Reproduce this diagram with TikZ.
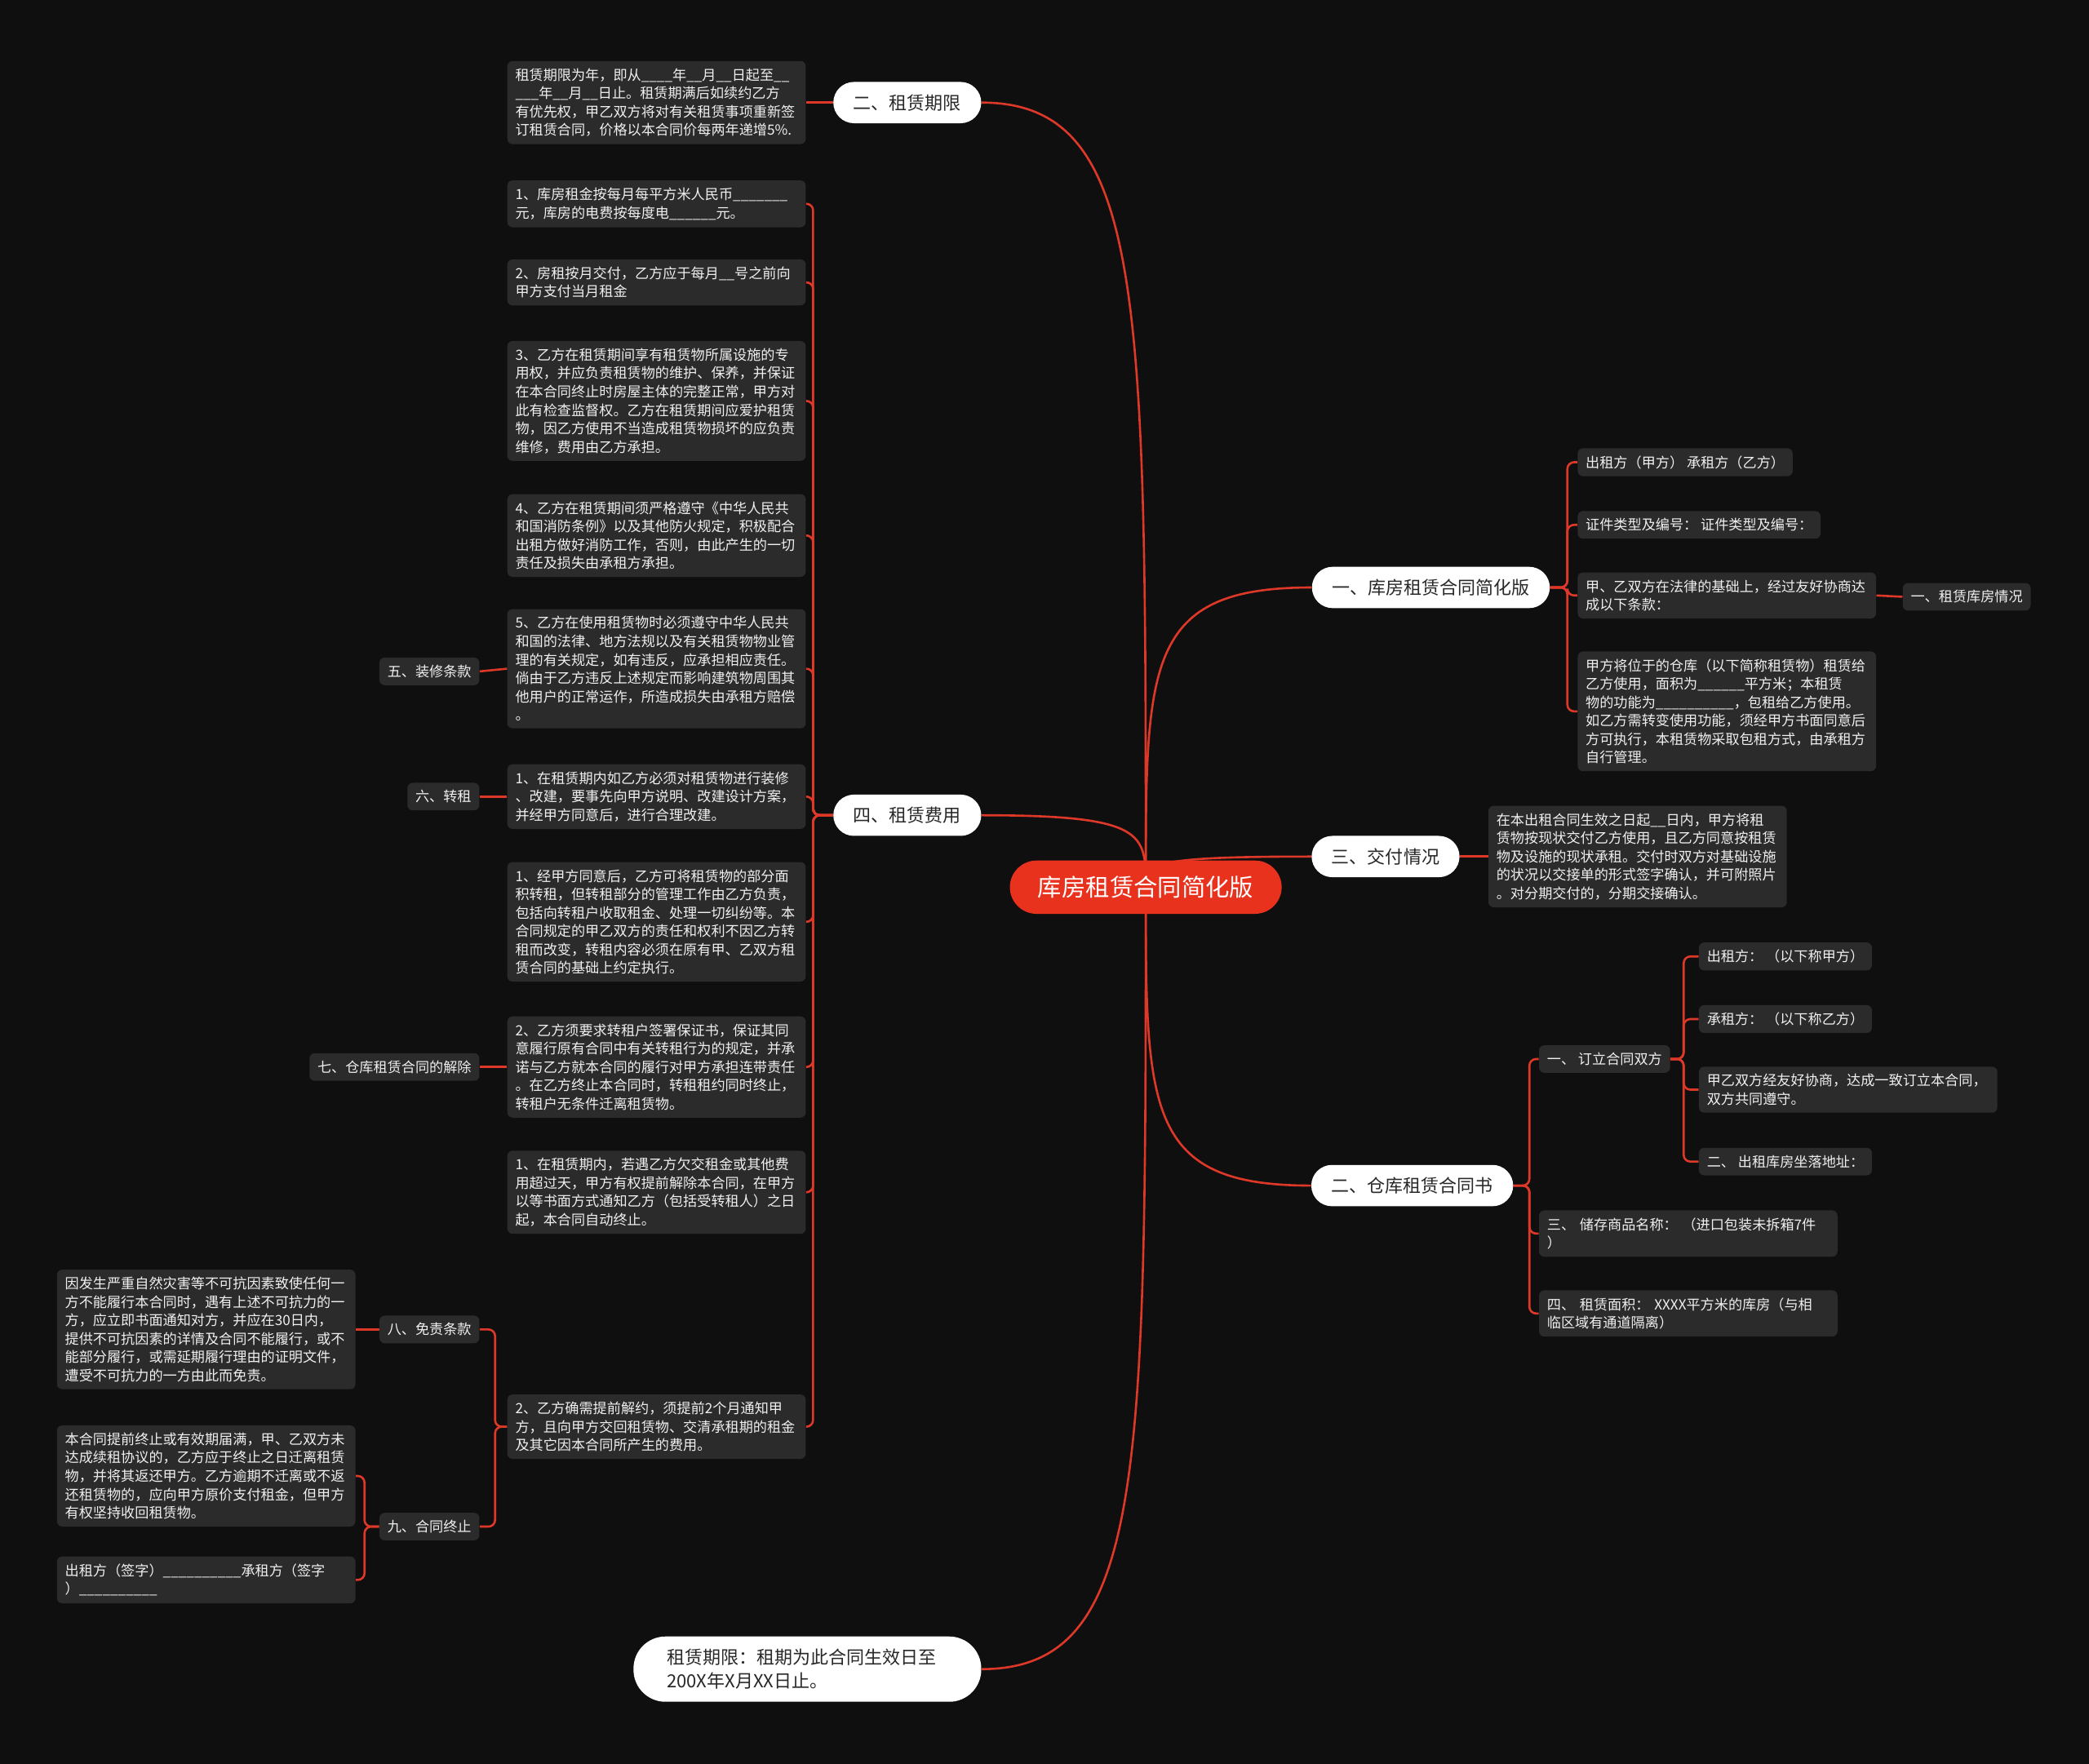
\documentclass[tikz,border=0pt]{standalone}
\usepackage{fontspec}
\setmainfont{Noto Sans CJK SC}
\usepackage{tikz}
\usetikzlibrary{calc,positioning}
\definecolor{bgblack}{RGB}{15,15,15}
\definecolor{boxgray}{RGB}{43,43,43}
\definecolor{linkred}{RGB}{222,56,40}
\definecolor{rootred}{RGB}{233,50,30}
\definecolor{pilltext}{RGB}{40,40,40}
\definecolor{boxtext}{RGB}{240,240,240}
\pgfdeclarelayer{bg}
\pgfdeclarelayer{links}
\pgfsetlayers{bg,links,main}
\tikzset{
  rootbox/.style={fill=rootred,text=white,rounded corners=20pt,minimum height=40pt,inner xsep=21pt,font=\fontsize{18}{22}\selectfont},
  pill/.style={fill=white,text=pilltext,rounded corners=15.5pt,minimum height=31pt,inner xsep=15pt,font=\fontsize{13.5}{18}\selectfont},
  leaf/.style={fill=boxgray,text=boxtext,rounded corners=4pt,inner xsep=6pt,inner ysep=5.5pt,align=left,font=\fontsize{10.5}{13.8}\selectfont},
  para/.style={leaf,text width=212pt},
  link/.style={draw=linkred,line width=1.6pt},
  tree/.style={link,rounded corners=5pt}
}
\begin{document}
\begin{tikzpicture}[x=1pt,y=-1pt]
\useasboundingbox (0,0) rectangle (1568,1324);
\begin{pgfonlayer}{bg}
\fill[bgblack] (0,0) rectangle (1568,1324);
\end{pgfonlayer}

\node[rootbox] (root) at (860,666) {库房租赁合同简化版};
\node[pill] (qixian) at (681,77) {二、租赁期限};
\node[pill] (feiyong) at (681,612) {四、租赁费用};
\node[pill] (kufang) at (1074,441) {一、库房租赁合同简化版};
\node[pill] (jiaofu) at (1040,643) {三、交付情况};
\node[pill] (cangku) at (1060,890) {二、仓库租赁合同书};
\node[pill,rounded corners=24pt,minimum height=49pt,text width=211pt,inner xsep=25pt,align=left,font=\fontsize{13.5}{18}\selectfont] (zuqi) at (606,1253) {租赁期限：租期为此合同生效日至\\200X年X月XX日止。};

\node[para,anchor=east] (qx1) at (605,77) {租赁期限为年，即从\_\_\_\_年\_\_月\_\_日起至\_\_\\\_\_\_年\_\_月\_\_日止。租赁期满后如续约乙方\\有优先权，甲乙双方将对有关租赁事项重新签\\订租赁合同，价格以本合同价每两年递增5\%.};

\node[para,anchor=east] (fy1) at (605,153) {1、库房租金按每月每平方米人民币\_\_\_\_\_\_\_\\元，库房的电费按每度电\_\_\_\_\_\_元。};
\node[para,anchor=east] (fy2) at (605,212) {2、房租按月交付，乙方应于每月\_\_号之前向\\甲方支付当月租金};
\node[para,anchor=east] (fy3) at (605,301) {3、乙方在租赁期间享有租赁物所属设施的专\\用权，并应负责租赁物的维护、保养，并保证\\在本合同终止时房屋主体的完整正常，甲方对\\此有检查监督权。乙方在租赁期间应爱护租赁\\物，因乙方使用不当造成租赁物损坏的应负责\\维修，费用由乙方承担。};
\node[para,anchor=east] (fy4) at (605,402) {4、乙方在租赁期间须严格遵守《中华人民共\\和国消防条例》以及其他防火规定，积极配合\\出租方做好消防工作，否则，由此产生的一切\\责任及损失由承租方承担。};
\node[para,anchor=east] (fy5) at (605,502) {5、乙方在使用租赁物时必须遵守中华人民共\\和国的法律、地方法规以及有关租赁物物业管\\理的有关规定，如有违反，应承担相应责任。\\倘由于乙方违反上述规定而影响建筑物周围其\\他用户的正常运作，所造成损失由承租方赔偿\\。};
\node[para,anchor=east] (fy6) at (605,598) {1、在租赁期内如乙方必须对租赁物进行装修\\、改建，要事先向甲方说明、改建设计方案，\\并经甲方同意后，进行合理改建。};
\node[para,anchor=east] (fy7) at (605,692) {1、经甲方同意后，乙方可将租赁物的部分面\\积转租，但转租部分的管理工作由乙方负责，\\包括向转租户收取租金、处理一切纠纷等。本\\合同规定的甲乙双方的责任和权利不因乙方转\\租而改变，转租内容必须在原有甲、乙双方租\\赁合同的基础上约定执行。};
\node[para,anchor=east] (fy8) at (605,801) {2、乙方须要求转租户签署保证书，保证其同\\意履行原有合同中有关转租行为的规定，并承\\诺与乙方就本合同的履行对甲方承担连带责任\\。在乙方终止本合同时，转租租约同时终止，\\转租户无条件迁离租赁物。};
\node[para,anchor=east] (fy9) at (605,895) {1、在租赁期内，若遇乙方欠交租金或其他费\\用超过天，甲方有权提前解除本合同，在甲方\\以等书面方式通知乙方（包括受转租人）之日\\起，本合同自动终止。};
\node[para,anchor=east] (fy10) at (605,1071) {2、乙方确需提前解约，须提前2个月通知甲\\方，且向甲方交回租赁物、交清承租期的租金\\及其它因本合同所产生的费用。};

\node[leaf,anchor=east] (zhuangxiu) at (360,504) {五、装修条款};
\node[leaf,anchor=east] (zhuanzu) at (360,598) {六、转租};
\node[leaf,anchor=east] (jiechu) at (360,801) {七、仓库租赁合同的解除};
\node[leaf,anchor=east] (mianze) at (360,998) {八、免责条款};
\node[leaf,anchor=east] (zhongzhi) at (360,1146) {九、合同终止};

\node[para,anchor=east] (mz1) at (267,998) {因发生严重自然灾害等不可抗因素致使任何一\\方不能履行本合同时，遇有上述不可抗力的一\\方，应立即书面通知对方，并应在30日内，\\提供不可抗因素的详情及合同不能履行，或不\\能部分履行，或需延期履行理由的证明文件，\\遭受不可抗力的一方由此而免责。};
\node[para,anchor=east] (zz1) at (267,1108) {本合同提前终止或有效期届满，甲、乙双方未\\达成续租协议的，乙方应于终止之日迁离租赁\\物，并将其返还甲方。乙方逾期不迁离或不返\\还租赁物的，应向甲方原价支付租金，但甲方\\有权坚持收回租赁物。};
\node[para,anchor=east] (zz2) at (267,1186) {出租方（签字）\_\_\_\_\_\_\_\_\_\_承租方（签字\\）\_\_\_\_\_\_\_\_\_\_};

\node[leaf,anchor=west] (kf1) at (1184,347) {出租方（甲方） 承租方（乙方）};
\node[leaf,anchor=west] (kf2) at (1184,394) {证件类型及编号： 证件类型及编号：};
\node[para,anchor=west] (kf3) at (1184,447) {甲、乙双方在法律的基础上，经过友好协商达\\成以下条款：};
\node[para,anchor=west] (kf4) at (1184,534) {甲方将位于的仓库（以下简称租赁物）租赁给\\乙方使用，面积为\_\_\_\_\_\_平方米；本租赁\\物的功能为\_\_\_\_\_\_\_\_\_\_，包租给乙方使用。\\如乙方需转变使用功能，须经甲方书面同意后\\方可执行，本租赁物采取包租方式，由承租方\\自行管理。};
\node[leaf,anchor=west] (qingkuang) at (1428,448) {一、租赁库房情况};

\node[para,anchor=west] (jf1) at (1117,643) {在本出租合同生效之日起\_\_日内，甲方将租\\赁物按现状交付乙方使用，且乙方同意按租赁\\物及设施的现状承租。交付时双方对基础设施\\的状况以交接单的形式签字确认，并可附照片\\。对分期交付的，分期交接确认。};

\node[leaf,anchor=west] (shuangfang) at (1155,795) {一、 订立合同双方};
\node[para,anchor=west] (ck2) at (1155,926) {三、 储存商品名称： （进口包装未拆箱7件\\）};
\node[para,anchor=west] (ck3) at (1155,986) {四、 租赁面积： XXXX平方米的库房（与相\\临区域有通道隔离）};
\node[leaf,anchor=west] (sf1) at (1275,718) {出租方： （以下称甲方）};
\node[leaf,anchor=west] (sf2) at (1275,765) {承租方： （以下称乙方）};
\node[para,anchor=west] (sf3) at (1275,818) {甲乙双方经友好协商，达成一致订立本合同，\\双方共同遵守。};
\node[leaf,anchor=west] (sf4) at (1275,872) {二、 出租库房坐落地址：};

\begin{pgfonlayer}{links}
\draw[link] (root.center) .. controls ($(root.center)!.75!(root.center |- qixian.east)$) and (root.center |- qixian.east) .. (qixian.east);
\draw[link] (root.center) .. controls ($(root.center)!.75!(root.center |- feiyong.east)$) and (root.center |- feiyong.east) .. (feiyong.east);
\draw[link] (root.center) .. controls ($(root.center)!.75!(root.center |- zuqi.east)$) and (root.center |- zuqi.east) .. (zuqi.east);
\draw[link] (root.center) .. controls ($(root.center)!.75!(root.center |- kufang.west)$) and (root.center |- kufang.west) .. (kufang.west);
\draw[link] (root.center) .. controls ($(root.center)!.75!(root.center |- jiaofu.west)$) and (root.center |- jiaofu.west) .. (jiaofu.west);
\draw[link] (root.center) .. controls ($(root.center)!.75!(root.center |- cangku.west)$) and (root.center |- cangku.west) .. (cangku.west);

\draw[link] (qixian.west) -- (qx1.east);
\foreach \i in {1,...,10}
  \draw[tree] (feiyong.west) -- ++(-15,0) |- (fy\i.east);
\draw[link] (fy5.west) -- (zhuangxiu.east);
\draw[link] (fy6.west) -- (zhuanzu.east);
\draw[link] (fy8.west) -- (jiechu.east);
\draw[tree] (fy10.west) -- ++(-9,0) |- (mianze.east);
\draw[tree] (fy10.west) -- ++(-9,0) |- (zhongzhi.east);
\draw[link] (mianze.west) -- (mz1.east);
\draw[tree] (zhongzhi.west) -- ++(-11,0) |- (zz1.east);
\draw[tree] (zhongzhi.west) -- ++(-11,0) |- (zz2.east);

\foreach \i in {1,...,4}
  \draw[tree] (kufang.east) -- ++(13,0) |- (kf\i.west);
\draw[link] (kf3.east) -- (qingkuang.west);
\draw[link] (jiaofu.east) -- (jf1.west);
\draw[tree] (cangku.east) -- ++(12,0) |- (shuangfang.west);
\draw[tree] (cangku.east) -- ++(12,0) |- (ck2.west);
\draw[tree] (cangku.east) -- ++(12,0) |- (ck3.west);
\foreach \i in {1,...,4}
  \draw[tree] (shuangfang.east) -- ++(10,0) |- (sf\i.west);
\end{pgfonlayer}
\end{tikzpicture}
\end{document}
